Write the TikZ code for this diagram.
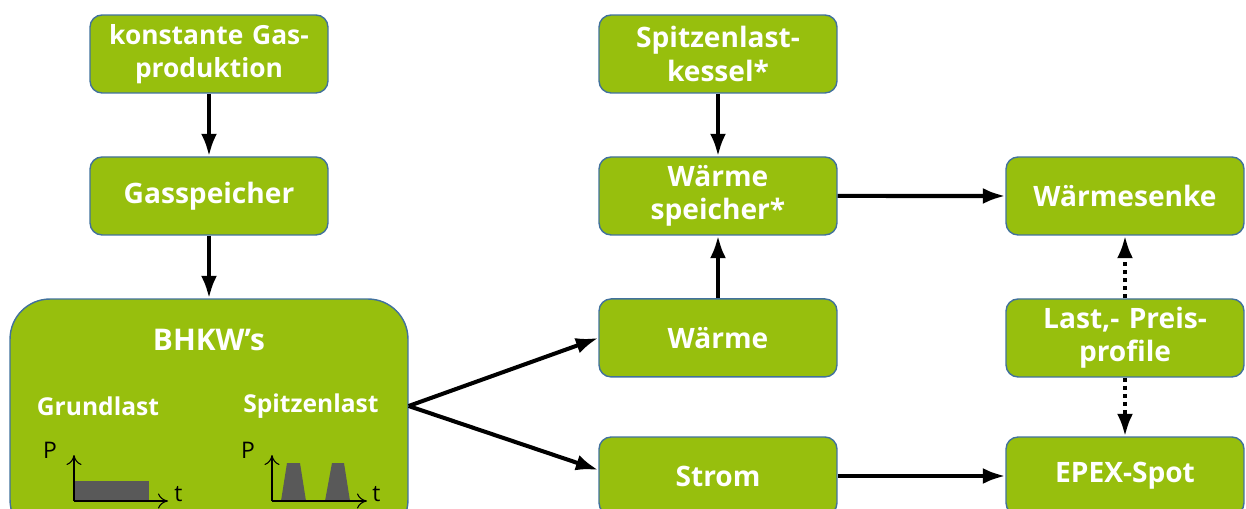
\documentclass[tikz,border=0pt]{standalone}
\usepackage{fontspec}
\setmainfont{Open Sans}
\usetikzlibrary{arrows.meta,positioning,calc}
\definecolor{boxgreen}{RGB}{151,191,13}
\definecolor{boxrim}{RGB}{65,113,156}
\definecolor{loadgray}{RGB}{89,89,89}
\tikzstyle{line} = [draw, line width=2.3pt, -{Latex[length=0.45cm,width=0.32cm]}]
\tikzstyle{dotline} = [line, dash pattern=on 2.3pt off 2.3pt]
\tikzstyle{block} = [rectangle, draw=boxrim, line width=0.8pt, fill=boxgreen, rounded corners=0.24cm, minimum width=4.76cm, minimum height=1.56cm, text width=4.5cm, align=center, text=white, font=\fontsize{16}{19}\selectfont\bfseries, node distance=2.84cm]
\tikzstyle{bigblock} = [block, rounded corners=0.8cm, minimum width=7.96cm, minimum height=4.82cm]
\tikzstyle{inlabel} = [text=white, font=\fontsize{14}{17}\selectfont\bfseries]
\tikzstyle{axislabel} = [text=black, font=\fontsize{13}{15}\selectfont, inner sep=0pt]
\tikzstyle{axis} = [draw, line width=0.6pt, -{To[length=0.2cm,width=0.3cm]}]

\begin{document}
\begin{tikzpicture}[x=0.02cm, y=-0.02cm]
	\clip (0,0) rectangle (1246,509);
	% gas side
	\node [block, font=\fontsize{15}{19}\selectfont\bfseries] (gasprod) at (209,54) {konstante Gas-\\produktion};
	\node [block, below of=gasprod] (gasspeicher) {Gasspeicher};
	\node [bigblock] (bhkw) at (209,419.5) {};
	\node [inlabel, font=\fontsize{17}{20}\selectfont\bfseries] (bhkwname) at (209,340) {BHKW’s};
	\node [inlabel] (grund) at (98,406) {Grundlast};
	\node [inlabel] (spitz) at (311,406) {Spitzenlast};
	
	% load curves
	\node [axislabel] (p1) at (50,450) {P};
	\node [axislabel, anchor=west] (t1) at (174,494) {t};
	\fill [loadgray] (74,481) rectangle (149,501);
	\path [axis] (74,501) -- (74,455);
	\path [axis] (74,501) -- (168,501);
	\node [axislabel] (p2) at (248,450) {P};
	\node [axislabel, anchor=west] (t2) at (372,494) {t};
	\fill [loadgray] (281,501) -- (287,463) -- (300,463) -- (306,501) -- cycle;
	\fill [loadgray] (325,501) -- (332,463) -- (344,463) -- (350,501) -- cycle;
	\path [axis] (272,501) -- (272,455);
	\path [axis] (272,501) -- (367,501);
	
	% heat and power
	\node [block] (kessel) at (718,54) {Spitzenlast-\\kessel*};
	\node [block, below of=kessel] (wspeicher) {Wärme\\speicher*};
	\node [block, below of=wspeicher] (waerme) {Wärme};
	\node [block] (strom) at (718,476) {Strom};
	\node [block] (senke) at (1125,196) {Wärmesenke};
	\node [block, below of=senke] (profile) {Last,- Preis-\\profile};
	\node [block] (epex) at (1125,476) {EPEX-Spot};
	
	\path [line] (gasprod) -- (gasspeicher);
	\path [line] (gasspeicher) -- (bhkw);
	\coordinate (fork) at (bhkw.east |- spitz);
	\path [line] (fork) -- (waerme.west);
	\path [line] (fork) -- ([yshift=0.12cm]strom.west);
	\path [line] (kessel) -- (wspeicher);
	\path [line] (waerme) -- (wspeicher);
	\path [line] (wspeicher) -- (senke);
	\path [line] (strom) -- (epex);
	\path [dotline] (profile) -- (senke);
	\path [dotline] (profile) -- (epex);
\end{tikzpicture}
\end{document}
